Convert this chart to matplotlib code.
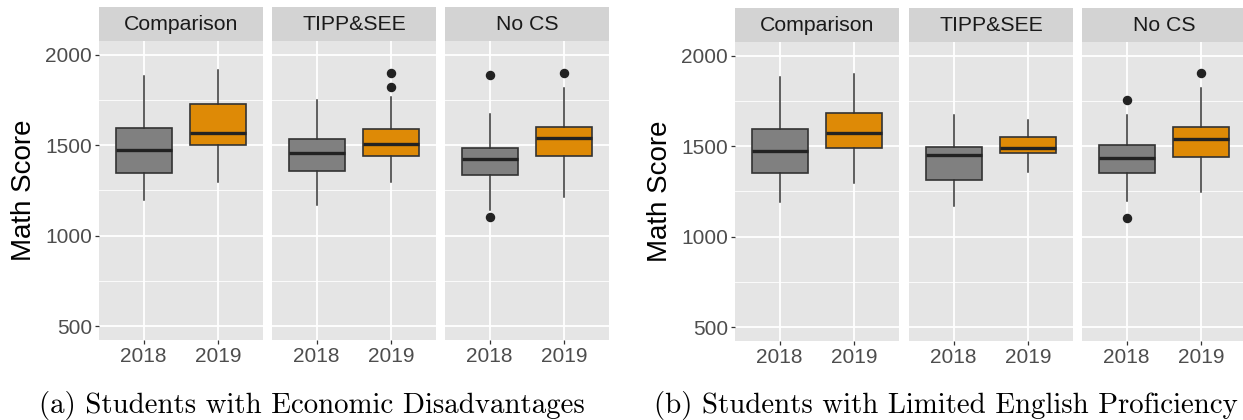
import matplotlib
matplotlib.use("Agg")
import matplotlib.pyplot as plt

# ---- data -----------------------------------------------------------------
programs = ["Comparison", "TIPP&SEE", "No CS"]
years = ["2018", "2019"]

# Economic disadvantages: values ordered Comparison 2018/2019, TIPP&SEE 2018/2019, No CS 2018/2019
econ_whislo = [1196, 1296, 1168, 1296, 1145, 1214]
econ_q1 = [1349, 1503, 1357, 1442, 1336, 1442]
econ_med = [1473, 1570, 1457, 1505, 1426, 1538]
econ_q3 = [1594, 1729, 1536, 1589, 1484, 1603]
econ_whishi = [1881, 1914, 1750, 1764, 1671, 1817]
econ_fliers = [[], [], [], [1901, 1819], [1885, 1102], [1901]]

# Limited English proficiency, same ordering
lep_whislo = [1194, 1298, 1169, 1359, 1196, 1247]
lep_q1 = [1353, 1490, 1311, 1465, 1351, 1443]
lep_med = [1476, 1571, 1452, 1492, 1434, 1538]
lep_q3 = [1596, 1684, 1498, 1552, 1507, 1605]
lep_whishi = [1883, 1901, 1671, 1646, 1671, 1819]
lep_fliers = [[], [], [], [], [1753, 1103], [1903]]

captions = ["(a) Students with Economic Disadvantages",
            "(b) Students with Limited English Proficiency"]
y_ticks = [500, 1000, 1500, 2000]
y_minor = [750, 1250, 1750]

# ---- style ----------------------------------------------------------------
PANEL = "#E5E5E5"
STRIP = "#D3D3D3"
YEAR_COLORS = ["#808080", "#DE8A06"]
EDGE = "#333333"
SANS = "Liberation Sans"

W, H = 1243, 420
fig = plt.figure(figsize=(W / 100, H / 100), dpi=100)
fig.patch.set_facecolor("white")


def px_axes(x0, y0, x1, y1):
    return fig.add_axes([x0 / W, 1 - y1 / H, (x1 - x0) / W, (y1 - y0) / H])


def draw_chart(lefts, top, bottom, strip_top, ylab_x, caption_x, caption,
               whislo, q1, med, q3, whishi, fliers):
    for i, prog in enumerate(programs):
        left = lefts[i]
        ax = px_axes(left, top, left + 164, bottom)
        ax.set_facecolor(PANEL)
        stats = []
        for j, yr in enumerate(years):
            k = 2 * i + j
            stats.append(dict(label=yr, whislo=whislo[k], q1=q1[k], med=med[k],
                              q3=q3[k], whishi=whishi[k], fliers=fliers[k]))
        parts = ax.bxp(stats, positions=[1, 2], widths=0.75, patch_artist=True,
                       showcaps=False,
                       boxprops=dict(edgecolor=EDGE, linewidth=1.2),
                       medianprops=dict(color="#222222", linewidth=2.4),
                       whiskerprops=dict(color=EDGE, linewidth=1.1),
                       flierprops=dict(marker="o", markerfacecolor="#222222",
                                       markeredgecolor="#222222", markersize=5.8))
        for patch, col in zip(parts["boxes"], YEAR_COLORS):
            patch.set_facecolor(col)
        ax.set_xlim(0.4, 2.6)
        ax.set_ylim(425, 2075)
        ax.set_yticks(y_ticks)
        ax.set_yticks(y_minor, minor=True)
        ax.set_axisbelow(True)
        ax.grid(True, which="major", color="white", linewidth=1.3)
        ax.grid(True, which="minor", axis="y", color="white", linewidth=0.6)
        for s in ax.spines.values():
            s.set_visible(False)
        ax.tick_params(axis="both", which="major", length=3, width=0.9,
                       color=EDGE, labelsize=15, labelcolor="#4D4D4D", pad=2)
        ax.tick_params(axis="y", which="minor", length=0)
        ax.set_xticks([1, 2])
        ax.set_xticklabels(years, fontfamily=SANS)
        if i == 0:
            ax.set_yticklabels([str(v) for v in y_ticks], fontfamily=SANS)
        else:
            ax.tick_params(axis="y", which="major", length=0, labelleft=False)

        sax = px_axes(left, strip_top, left + 164, top)
        sax.set_facecolor(STRIP)
        sax.set_xticks([])
        sax.set_yticks([])
        for s in sax.spines.values():
            s.set_visible(False)
        sax.text(0.5, 0.48, prog, ha="center", va="center", fontsize=15.3,
                 color="#1A1A1A", fontfamily=SANS, transform=sax.transAxes)

    fig.text(ylab_x / W, 1 - ((top + bottom) / 2) / H, "Math Score",
             rotation=90, ha="center", va="center", fontsize=20,
             fontfamily=SANS, color="black")
    fig.text(caption_x / W, 1 - 405 / H, caption, ha="center", va="center",
             fontsize=20.8, fontfamily="cmr10", color="black")


draw_chart([99, 272, 445], 41, 340, 7, 24, 312, captions[0],
           econ_whislo, econ_q1, econ_med, econ_q3, econ_whishi, econ_fliers)
draw_chart([735, 909, 1082], 42, 341, 8, 660, 946, captions[1],
           lep_whislo, lep_q1, lep_med, lep_q3, lep_whishi, lep_fliers)

fig.savefig("out.png", dpi=100, facecolor="white")
